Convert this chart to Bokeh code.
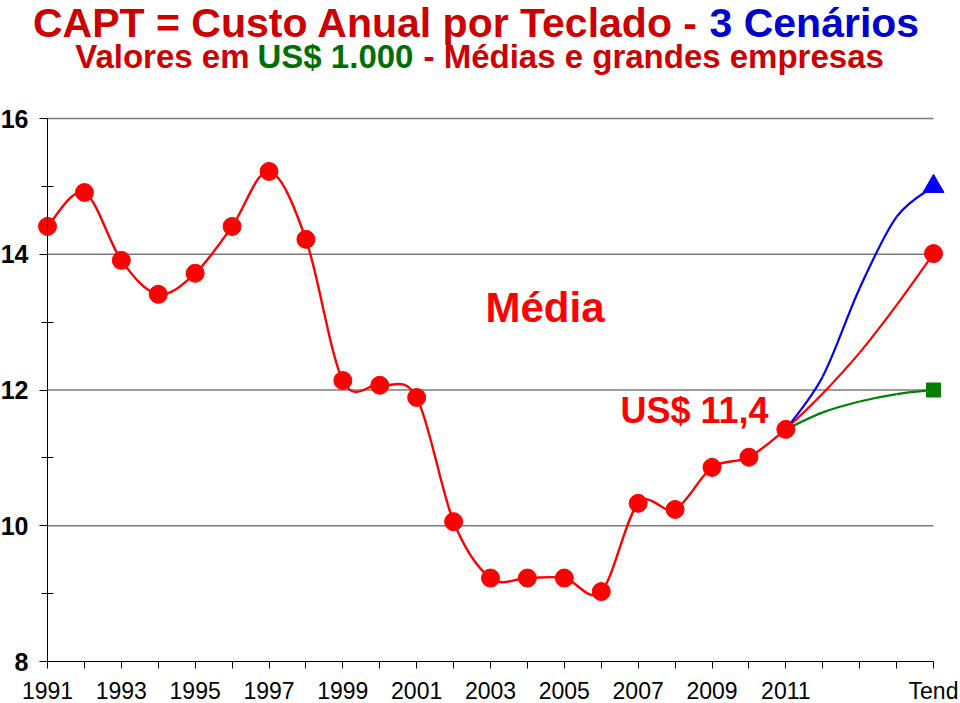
import numpy as np
from bokeh.plotting import figure
from bokeh.models import ColumnDataSource, Label, FixedTicker, Range1d
from bokeh.embed import file_html
from bokeh.resources import INLINE

# ---------------- data ----------------
years = list(range(1991, 2012))
capt = [14.41, 14.91, 13.91, 13.41, 13.72, 14.41, 15.22, 14.22, 12.14, 12.07, 11.89,
        10.06, 9.23, 9.23, 9.23, 9.03, 10.33, 10.24, 10.86, 11.01, 11.42]
trend_pos = [20, 21, 22, 23, 24]          # 2011 ... Tend
trend_mid = [11.42, 11.95, 12.55, 13.25, 14.01]
trend_high = [11.42, 12.20, 13.50, 14.55, 15.00]
trend_low = [11.42, 11.67, 11.83, 11.94, 12.00]
tend_label = "Tend"
y_ticks = [8, 10, 12, 14, 16]
y_minor = [9, 11, 13, 15]

idx = list(range(len(years)))
x_ticks = idx + trend_pos[1:]
x_labels = {i: "" for i in x_ticks}
for i, y in zip(idx, years):
    if i % 2 == 0:
        x_labels[i] = str(y)
x_labels[trend_pos[-1]] = tend_label

FONT = "Liberation Sans"

# ---------------- geometry (page pixels) ----------------
W, H = 960, 703
AX_X0, AX_X1 = 47, 933      # pixel of first / last category
AX_Y16, AX_Y8 = 118, 661    # pixel of y=16 / y=8
PX = (AX_X1 - AX_X0) / float(trend_pos[-1] - idx[0])
PY = (AX_Y8 - AX_Y16) / float(y_ticks[-1] - y_ticks[0])


def X(img_x):
    return idx[0] + (img_x - AX_X0) / PX


def Y(img_y):
    return y_ticks[0] + (AX_Y8 - img_y) / PY


p = figure(width=W, height=H, output_backend="svg", toolbar_location=None,
           x_range=Range1d(X(0), X(W)), y_range=Range1d(Y(H), Y(0)),
           min_border_left=0, min_border_right=0, min_border_top=0, min_border_bottom=0)
p.outline_line_color = None
p.background_fill_color = "white"
p.border_fill_color = "white"
p.xgrid.visible = False
p.ygrid.visible = False

# x axis
xa = p.xaxis[0]
xa.ticker = FixedTicker(ticks=x_ticks)
xa.major_label_overrides = x_labels
xa.fixed_location = y_ticks[0]
xa.bounds = (idx[0], trend_pos[-1])
xa.major_tick_in = 0
xa.major_tick_out = 7
xa.minor_tick_out = 0
xa.major_label_standoff = 9
xa.major_label_text_font = FONT
xa.major_label_text_font_size = "23px"
xa.major_label_text_color = "black"
xa.axis_line_color = "black"
xa.major_tick_line_color = "black"

# y axis
ya = p.yaxis[0]
ya.ticker = FixedTicker(ticks=y_ticks, minor_ticks=y_minor)
ya.fixed_location = idx[0]
ya.bounds = (y_ticks[0], y_ticks[-1])
ya.major_tick_in = 0
ya.major_tick_out = 8
ya.minor_tick_in = 6
ya.minor_tick_out = 6
ya.major_label_standoff = 11
ya.major_label_text_font = FONT
ya.major_label_text_font_size = "25px"
ya.major_label_text_font_style = "bold"
ya.major_label_text_color = "black"
ya.axis_line_color = "black"
ya.major_tick_line_color = "black"
ya.minor_tick_line_color = "black"

# grid lines (from y axis to Tend)
gy = y_ticks[1:]
p.segment(x0=[idx[0]] * len(gy), x1=[trend_pos[-1]] * len(gy), y0=gy, y1=gy,
          line_color="#7a7a7a", line_width=1.3)


def bez(xs, ys):
    P = np.column_stack([xs, ys]).astype(float)
    prev = np.vstack([P[0], P[:-1]])
    nxt = np.vstack([P[1:], P[-1]])
    t = (nxt - prev) / 6.0
    c0 = P[:-1] + t[:-1]
    c1 = P[1:] - t[1:]
    return ColumnDataSource(dict(x0=P[:-1, 0], y0=P[:-1, 1], x1=P[1:, 0], y1=P[1:, 1],
                                 cx0=c0[:, 0], cy0=c0[:, 1], cx1=c1[:, 0], cy1=c1[:, 1]))


RED = "#FF0000"
BLUE = "#0000FF"
GREEN = "#008000"

for ys, col in [(trend_low, GREEN), (trend_mid, RED), (trend_high, BLUE)]:
    p.bezier(x0="x0", y0="y0", x1="x1", y1="y1", cx0="cx0", cy0="cy0", cx1="cx1", cy1="cy1",
             source=bez(trend_pos, ys), line_color=col, line_width=2.2)

p.bezier(x0="x0", y0="y0", x1="x1", y1="y1", cx0="cx0", cy0="cy0", cx1="cx1", cy1="cy1",
         source=bez(idx, capt), line_color=RED, line_width=2.4)

p.scatter(x=idx, y=capt, size=18, marker="circle", fill_color=RED, line_color=RED)
p.scatter(x=[trend_pos[-1]], y=[trend_mid[-1]], size=18, marker="circle", fill_color=RED, line_color=RED)
p.scatter(x=[trend_pos[-1]], y=[trend_high[-1]], size=21, marker="triangle", fill_color=BLUE, line_color=BLUE)
p.scatter(x=[trend_pos[-1]], y=[trend_low[-1]], size=14, marker="square", fill_color=GREEN, line_color=GREEN)


# ---------------- texts ----------------
def lab(text, ix, iy, size, color, align="left"):
    p.add_layout(Label(x=X(ix), y=Y(iy), text=text, text_font=FONT, text_font_size=size,
                       text_font_style="bold", text_color=color, text_align=align,
                       text_baseline="alphabetic"))


lab("CAPT = Custo Anual por Teclado -", 698, 22, "41px", "#CC0000", "right")
lab("3 Cenários", 709, 22, "41px", "#0000CC")
lab("Valores em", 249, 56, "33px", "#CC0000", "right")
lab("US$ 1.000", 257, 56, "33px", "#006F00")
lab("- Médias e grandes empresas", 423, 56, "33px", "#CC0000")
lab("Média", 485, 307, "42px", RED)
lab("US$ 11,4", 620, 410, "36px", RED)

open("out.html", "w").write(file_html(p, INLINE))
